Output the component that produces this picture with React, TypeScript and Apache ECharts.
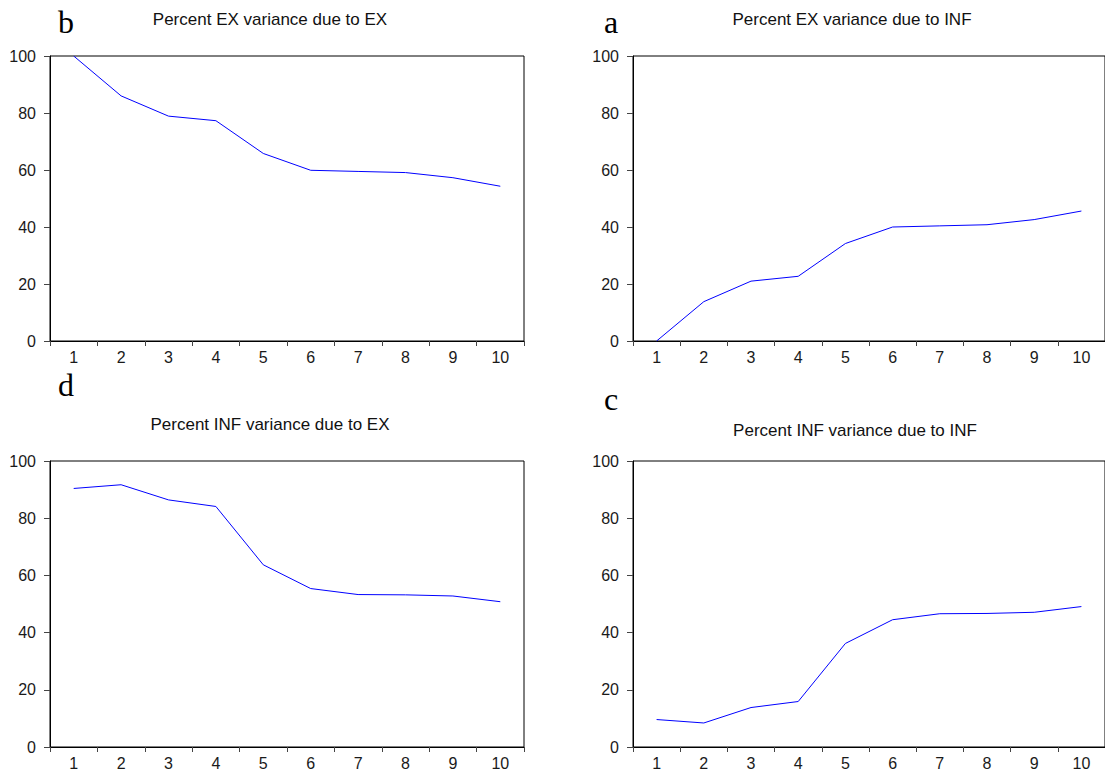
import React, { useEffect, useRef } from "react";
import * as echarts from "echarts";

const periods = ["1", "2", "3", "4", "5", "6", "7", "8", "9", "10"];
const yTicks = { min: 0, max: 100, interval: 20 };

const exDueEx = [100, 86.0, 78.9, 77.3, 65.8, 59.9, 59.5, 59.1, 57.3, 54.3];
const exDueInf = [0, 13.8, 21.0, 22.7, 34.2, 40.0, 40.4, 40.8, 42.6, 45.6];
const infDueEx = [90.4, 91.7, 86.4, 84.1, 63.7, 55.4, 53.3, 53.2, 52.8, 50.8];
const infDueInf = [9.6, 8.4, 13.8, 15.9, 36.2, 44.5, 46.6, 46.7, 47.1, 49.1];

const panelTitles = [
  "Percent EX variance due to EX",
  "Percent EX variance due to INF",
  "Percent INF variance due to EX",
  "Percent INF variance due to INF",
];
const panelLetters = ["b", "a", "d", "c"];
const seriesData = [exDueEx, exDueInf, infDueEx, infDueInf];

const grids = [
  { left: 50, top: 56, width: 474, height: 285 },
  { left: 633, top: 56, width: 475, height: 285 },
  { left: 50, top: 461, width: 474, height: 286 },
  { left: 633, top: 461, width: 475, height: 286 },
];
const titlePos = [
  { x: 270, y: 19 },
  { x: 852, y: 19 },
  { x: 270, y: 424 },
  { x: 855, y: 430 },
];
const letterPos = [
  { x: 58, y: 22 },
  { x: 604, y: 22 },
  { x: 58, y: 385 },
  { x: 604, y: 399 },
];

const sans = "'Liberation Sans', Arial, Helvetica, sans-serif";
const serif = "'Liberation Serif', 'Times New Roman', serif";

export default function App() {
  const ref = useRef<HTMLDivElement>(null);
  useEffect(() => {
    if (!ref.current) return;
    const chart = echarts.init(ref.current, null, { renderer: "svg" });
    const option: any = {
      animation: false,
      backgroundColor: "#ffffff",
      grid: grids.map((g) => ({
        ...g,
        show: true,
        borderColor: "#000",
        borderWidth: 1,
        backgroundColor: "transparent",
        containLabel: false,
      })),
      xAxis: grids.map((_, i) => ({
        type: "category",
        gridIndex: i,
        data: periods,
        boundaryGap: true,
        axisLine: { show: true, lineStyle: { color: "#000", width: 1 } },
        axisTick: { show: true, length: 5, lineStyle: { color: "#444" } },
        axisLabel: {
          fontSize: 16,
          fontFamily: sans,
          color: "#1a1a1a",
          margin: 8,
          interval: 0,
        },
        splitLine: { show: false },
      })),
      yAxis: grids.map((_, i) => ({
        type: "value",
        gridIndex: i,
        min: yTicks.min,
        max: yTicks.max,
        interval: yTicks.interval,
        axisLine: { show: true, lineStyle: { color: "#000", width: 1 } },
        axisTick: { show: true, length: 6, lineStyle: { color: "#444" } },
        axisLabel: {
          fontSize: 16,
          fontFamily: sans,
          color: "#1a1a1a",
          margin: 14,
        },
        splitLine: { show: false },
      })),
      series: seriesData.map((d, i) => ({
        type: "line",
        xAxisIndex: i,
        yAxisIndex: i,
        data: d,
        symbol: "none",
        lineStyle: { color: "#0000ff", width: 1 },
        itemStyle: { color: "#0000ff" },
      })),
      graphic: [
        ...panelTitles.map((t, i) => ({
          type: "text",
          x: titlePos[i].x,
          y: titlePos[i].y,
          style: {
            text: t,
            fontSize: 17,
            fontFamily: sans,
            fill: "#111",
            textAlign: "center",
            textVerticalAlign: "middle",
          },
        })),
        ...panelLetters.map((t, i) => ({
          type: "text",
          x: letterPos[i].x,
          y: letterPos[i].y,
          style: {
            text: t,
            fontSize: 32,
            fontFamily: serif,
            fill: "#000",
            textAlign: "left",
            textVerticalAlign: "middle",
          },
        })),
      ],
    };
    chart.setOption(option);
    return () => chart.dispose();
  }, []);
  return (
    <div
      ref={ref}
      style={{ position: "fixed", left: 0, top: 0, width: 1105, height: 771, background: "#fff" }}
    />
  );
}
